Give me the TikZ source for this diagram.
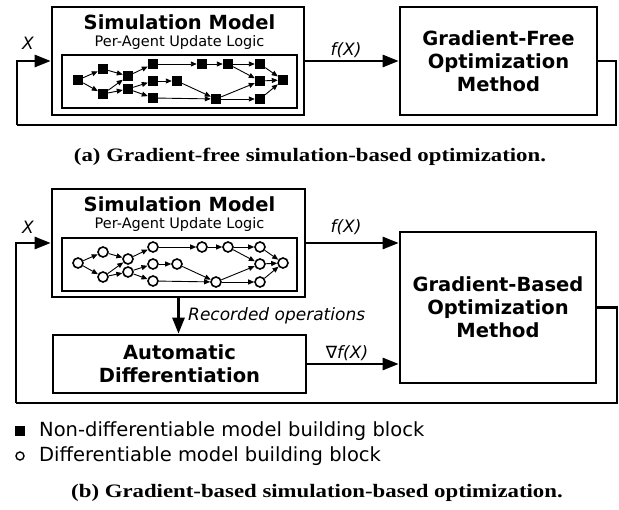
\documentclass[tikz,border=0pt]{standalone}
\usepackage{fontspec}
\setmainfont{DejaVu Sans}
\newfontfamily\capfont[FakeStretch=1.2]{Liberation Serif}
\usetikzlibrary{arrows.meta}

\tikzset{
  box/.style={draw, line width=2.6pt, align=center, inner sep=0pt,
    font=\bfseries\fontsize{19.5}{23}\selectfont},
  innerbox/.style={draw, line width=1.3pt, inner sep=0pt},
  blk/.style={fill=black, minimum size=10pt, inner sep=0pt},
  dblk/.style={draw, circle, line width=1.6pt, fill=white, minimum size=10pt, inner sep=0pt},
  edge/.style={line width=0.9pt, -{Triangle[length=6pt,width=5pt]}},
  flow/.style={line width=2.6pt, -{Triangle[length=16pt,width=12pt]}},
  loop/.style={line width=2.6pt},
  lbl/.style={font=\itshape\fontsize{17}{20}\selectfont, inner sep=0pt},
  title/.style={font=\bfseries\fontsize{19.5}{23}\selectfont, inner sep=0pt},
  subtitle/.style={font=\fontsize{14.5}{17}\selectfont, inner sep=0pt},
  legend/.style={font=\fontsize{19.5}{22}\selectfont, anchor=west, inner sep=0pt},
  caption/.style={font=\capfont\bfseries\fontsize{19}{22}\selectfont, inner sep=0pt}
}

% per-agent update graph: #1 name prefix, #2 block style
\newcommand\agentgraph[2]{%
  \foreach \i/\x/\y in {1/78/80, 2/103/69, 3/103/94, 4/128/76, 5/128/89,
      6/153/64, 7/153/81, 8/153/98, 9/177/81, 10/202/64, 11/228/64,
      12/216/99, 13/260/64, 14/260/81, 15/260/99, 16/283/80}
    {\node[#2] (#1\i) at (\x,\y) {};}
  \foreach \s/\t in {1/2, 1/3, 2/4, 3/4, 3/5, 4/6, 5/7, 5/8, 6/10, 10/11,
      11/13, 11/14, 7/9, 9/12, 8/12, 12/14, 12/15, 13/16, 14/16, 15/16}
    {\draw[edge] (#1\s) -- (#1\t);}
}

\begin{document}
\begin{tikzpicture}[x=1pt, y=-1pt]
  \useasboundingbox (0,0) rectangle (619,510);

  % (a) gradient-free
  \node[box, minimum width=252pt, minimum height=108pt] (simA) at (178,61) {};
  \node[title] (titleA) at (179.5,22) {Simulation Model};
  \node[subtitle] (subA) at (179.5,43) {Per-Agent Update Logic};
  \node[innerbox, minimum width=235pt, minimum height=53pt] (logicA) at (179.5,81.5) {};
  \agentgraph{a}{blk}

  \node[box, minimum width=197pt, minimum height=108pt] (gfA) at (498.5,61)
    {Gradient-Free\\Optimization\\Method};

  \coordinate (rA) at (616,125);
  \coordinate (lA) at (17,125);
  \draw[flow] (simA.east) -- (gfA.west);
  \draw[loop] (gfA.east) -| (rA) -- (lA);
  \draw[flow] (lA) |- (simA.west);
  \node[lbl] (fxA) at (346,50) {f(X)};
  \node[lbl] (xA) at (28,43) {X};

  \node[caption] (capA) at (310,157) {(a) Gradient-free simulation-based optimization.};

  % (b) gradient-based
  \node[box, minimum width=253pt, minimum height=108pt] (simB) at (178.5,243) {};
  \node[title] (titleB) at (179.5,204) {Simulation Model};
  \node[subtitle] (subB) at (179.5,225) {Per-Agent Update Logic};
  \node[innerbox, minimum width=235pt, minimum height=53pt] (logicB) at (179.5,264.5) {};
  \begin{scope}[yshift=-183pt]
    \agentgraph{b}{dblk}
  \end{scope}

  \node[box, minimum width=196pt, minimum height=151pt] (gbB) at (498,307.5)
    {Gradient-Based\\Optimization\\Method};
  \node[box, minimum width=253pt, minimum height=58pt] (adB) at (179.5,364)
    {Automatic\\Differentiation};

  \coordinate (rB) at (617,403);
  \coordinate (lB) at (16,403);
  \draw[flow] (simB.east) -- (simB.east -| gbB.west);
  \draw[flow] (simB.south) -- (simB.south |- adB.north);
  \draw[flow] (adB.east) -- (adB.east -| gbB.west);
  \draw[loop] (gbB.east) -| (rB) -- (lB);
  \draw[flow] (lB) |- (simB.west);
  \node[lbl] (fxB) at (346,227) {f(X)};
  \node[lbl] (xB) at (28,227) {X};
  \node[lbl, anchor=west] (recB) at (188,316) {Recorded operations};
  \node[lbl] (gradB) at (347,353) {{\upshape ∇}f(X)};

  % legend
  \node[blk] (keyBlk) at (20,431) {};
  \node[legend] (keyBlkTxt) at (39,431) {Non-differentiable model building block};
  \node[dblk, minimum size=8pt, line width=1.4pt] (keyDiff) at (20,456) {};
  \node[legend] (keyDiffTxt) at (39,456) {Differentiable model building block};

  \node[caption] (capB) at (317,493) {(b) Gradient-based simulation-based optimization.};
\end{tikzpicture}
\end{document}
